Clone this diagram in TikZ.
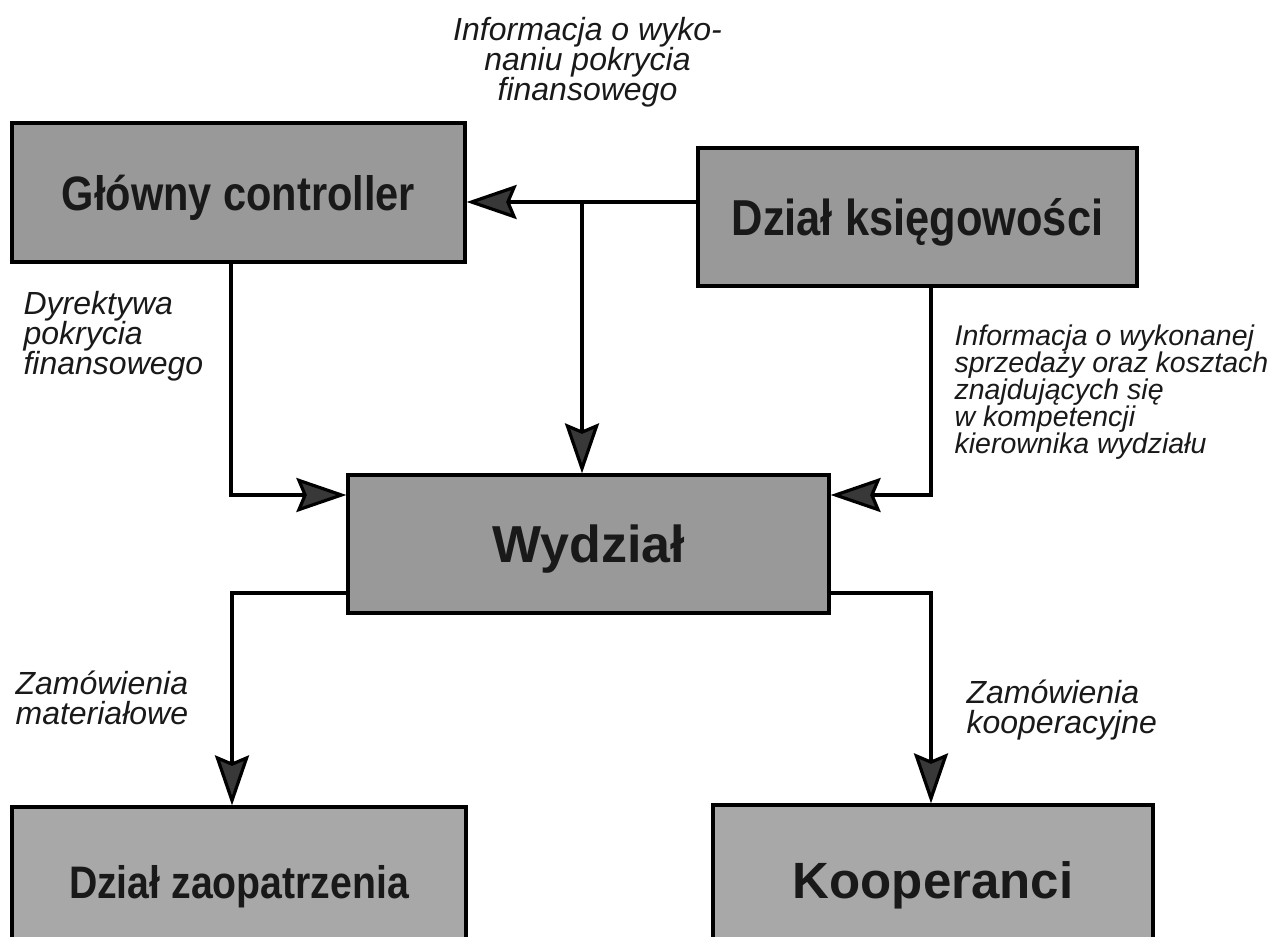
\documentclass[tikz,border=0pt]{standalone}
\usepackage{fontspec}
\setmainfont{Liberation Sans}
\newfontfamily\deptfont{Liberation Sans}[FakeStretch=0.86]
\usetikzlibrary{arrows.meta}
\definecolor{deptgray}{gray}{0.6}
\definecolor{lowgray}{gray}{0.66}
\definecolor{tipgray}{gray}{0.22}
\begin{document}
\begin{tikzpicture}[x=1pt,y=-1pt,line width=3.2pt,
  >={Stealth[length=50pt,width=34pt,inset=7pt,fill=tipgray]},
  deptbox/.style={draw,fill=deptgray,inner sep=0pt,text=black!90,text depth=0pt},
  flownote/.style={inner sep=0pt,align=left,text=black!90,
    font=\itshape\fontsize{32}{30}\selectfont}]
 \useasboundingbox (0,0) rectangle (1269,937);
 \node[deptbox,minimum width=453pt,minimum height=139pt,
   font=\deptfont\bfseries\fontsize{48.3}{50}\selectfont] (GC) at (238.5,192.5) {Główny controller};
 \node[deptbox,minimum width=439pt,minimum height=138pt,
   font=\deptfont\bfseries\fontsize{50.5}{52}\selectfont] (DK) at (917.5,217) {Dział księgowości};
 \node[deptbox,minimum width=481pt,minimum height=138pt,
   font=\bfseries\fontsize{52}{54}\selectfont] (W) at (588.5,544) {Wydział};
 \node[deptbox,fill=lowgray,minimum width=454pt,minimum height=150pt,
   font=\deptfont\bfseries\fontsize{45.6}{48}\selectfont] (DZ) at (239,882) {Dział zaopatrzenia};
 \node[deptbox,fill=lowgray,minimum width=440pt,minimum height=150pt,
   font=\bfseries\fontsize{51}{53}\selectfont] (K) at (933,880) {Kooperanci};

 \node[flownote,align=center] (infoTop) at (587.5,62.5) {Informacja o wyko-\\naniu pokrycia\\finansowego};
 \node[flownote,anchor=north west] (infoLeft) at (22,290) {Dyrektywa\\pokrycia\\finansowego};
 \node[flownote,anchor=north west,font=\itshape\fontsize{28.5}{27}\selectfont] (infoRight) at (953,323)
   {Informacja o wykonanej\\sprzedaży oraz kosztach\\znajdujących się\\w kompetencji\\kierownika wydziału};
 \node[flownote,anchor=north west] (ordersMat) at (14,669) {Zamówienia\\materiałowe};
 \node[flownote,anchor=north west] (ordersCoop) at (965,678) {Zamówienia\\kooperacyjne};

 \coordinate (fork) at (582,202);
 \coordinate (inL) at (231,495);
 \coordinate (inR) at (931,495);
 \coordinate (outL) at (232,593);
 \coordinate (outR) at (931,593);
 \draw[->] (DK.west |- fork) -- (GC.east |- fork);
 \draw[->] (fork) -- (fork |- W.north);
 \draw[->] (GC.south -| inL) -- (inL) -- (inL -| W.west);
 \draw[->] (DK.south -| inR) -- (inR) -- (inR -| W.east);
 \draw[->] (W.west |- outL) -- (outL) -- (outL |- DZ.north);
 \draw[->] (W.east |- outR) -- (outR) -- (outR |- K.north);
\end{tikzpicture}
\end{document}
